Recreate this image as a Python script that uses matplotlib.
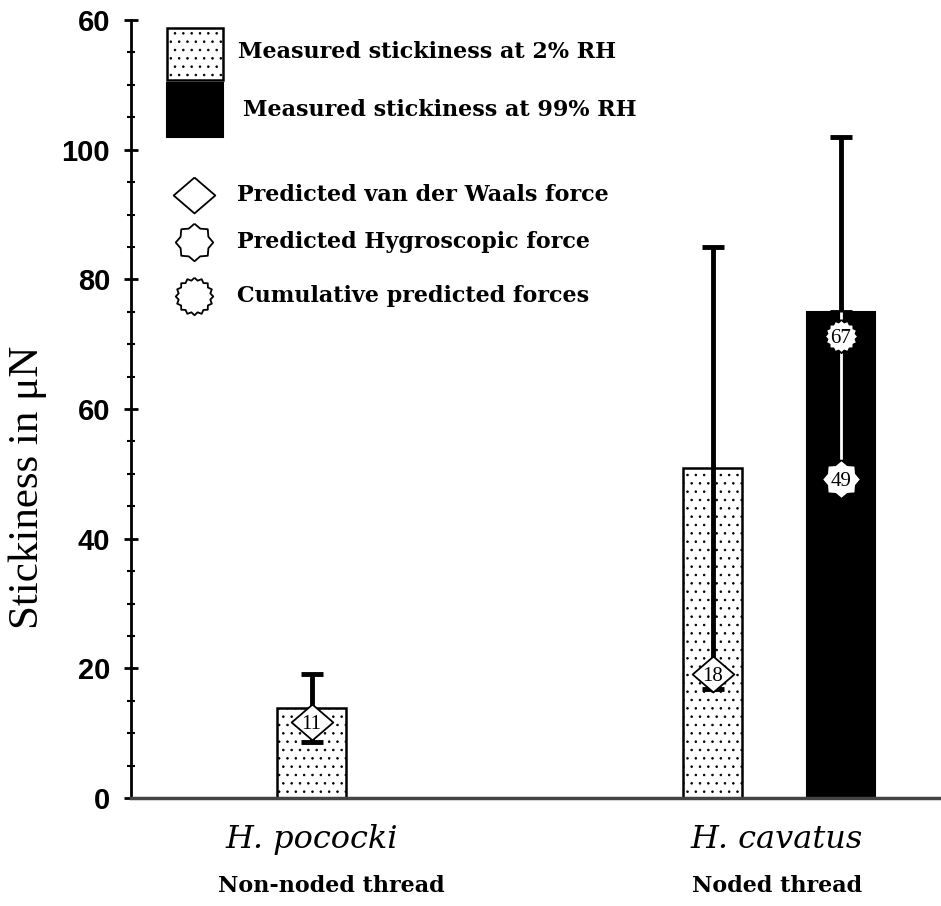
import numpy as np
import matplotlib
matplotlib.use("Agg")
import matplotlib.pyplot as plt
from matplotlib.patches import Rectangle
import matplotlib.transforms as mtransforms

# ---------------- data ----------------
species = ["H. pococki", "H. cavatus"]
thread_types = ["Non-noded thread", "Noded thread"]
rh_conditions = ["Measured stickiness at 2% RH", "Measured stickiness at 99% RH"]

bar_species = [0, 1, 1]          # which species each bar belongs to
bar_condition = [0, 0, 1]        # 0 = 2% RH, 1 = 99% RH
bar_means = [13.9, 50.9, 75.0]
bar_errors = [5.2, 34.1, 27.0]

predicted_labels = ["Predicted van der Waals force",
                    "Predicted Hygroscopic force",
                    "Cumulative predicted forces"]
pred_bar = [0, 1, 2, 2]          # bar index the prediction sits on
pred_kind = [0, 0, 1, 2]         # index into predicted_labels
pred_values = [11, 18, 49, 67]   # printed values
pred_y = [11.7, 19.2, 49.2, 71.3]  # vertical position

yticks = [0, 20, 40, 60, 80, 100, 120]
ytick_labels = ["0", "20", "40", "60", "80", "100", "60"]

# ---------------- style ----------------
W, H = 941, 906
plt.rcParams["hatch.color"] = "#808080"
plt.rcParams["hatch.linewidth"] = 0.6

fig = plt.figure(figsize=(W / 100, H / 100), dpi=100)
L, R, B, T = 131, 941, 798, 20
ax = fig.add_axes([L / W, 1 - B / H, (R - L) / W, (B - T) / H])

serif = ["DejaVu Serif"]
bar_offset = 0.16
bar_widths = [0.172, 0.147, 0.17]
bar_x = [s + (c - 0.5) * 2 * bar_offset for s, c in zip(bar_species, bar_condition)]

def star(n, inner):
    ang = np.linspace(0, 2 * np.pi, 2 * n, endpoint=False) + np.pi / 2
    r = np.where(np.arange(2 * n) % 2 == 0, 1.0, inner)
    v = np.column_stack([r * np.cos(ang), r * np.sin(ang)])
    return np.vstack([v, v[:1]])

diamond = np.array([[0, 0.86], [1, 0], [0, -0.86], [-1, 0], [0, 0.86]])
marker_shapes = [diamond, star(8, 0.8), star(16, 0.86)]
legend_marker_sizes = [30, 27, 27]
chart_marker_sizes = {0: 30, 1: 28, 2: 24}

# bars
for i in range(len(bar_means)):
    if bar_condition[i] == 0:
        ax.bar(bar_x[i], bar_means[i], width=bar_widths[i], facecolor="white",
               edgecolor="black", linewidth=1.8, hatch="..", zorder=2)
        ax.errorbar(bar_x[i], bar_means[i], yerr=bar_errors[i], fmt="none",
                    ecolor="black", elinewidth=3.5, capsize=8, capthick=3.5, zorder=3)
    else:
        ax.bar(bar_x[i], bar_means[i], width=bar_widths[i], facecolor="black",
               edgecolor="black", linewidth=1.5, zorder=2)
        ax.errorbar(bar_x[i], bar_means[i], yerr=[[0], [bar_errors[i]]], fmt="none",
                    ecolor="black", elinewidth=3.5, capsize=8, capthick=3.5, zorder=3)
        ax.vlines(bar_x[i], bar_means[i] - bar_errors[i], bar_means[i],
                  colors="white", linewidth=2, zorder=3)

# predicted markers
for b, k, v, yy in zip(pred_bar, pred_kind, pred_values, pred_y):
    ax.plot(bar_x[b], yy, marker=marker_shapes[k], markersize=chart_marker_sizes[k],
            markerfacecolor="white", markeredgecolor="black", markeredgewidth=1.3,
            linestyle="none", zorder=4)
    ax.text(bar_x[b], yy, str(v), ha="center", va="center_baseline",
            fontsize=15, family=["Liberation Serif"], zorder=5)

# axes
ax.set_ylim(0, 120)
ax.set_xlim(-0.6103, 1.4096)
ax.set_yticks(yticks)
ax.set_yticklabels(ytick_labels, fontsize=21, fontweight="bold",
                   family=["Liberation Sans"])
ax.set_yticks(np.arange(0, 121, 5), minor=True)
ax.tick_params(axis="y", which="major", direction="inout", length=10, width=2, pad=10)
ax.tick_params(axis="y", which="minor", direction="inout", length=6, width=1.5)
ax.set_xticks([])
for s in ["top", "right"]:
    ax.spines[s].set_visible(False)
ax.spines["left"].set_linewidth(2)
ax.spines["bottom"].set_linewidth(2.5)
ax.spines["bottom"].set_color("#444444")

fig.text(28 / W, 1 - 487 / H, "Stickiness in \u03bcN", rotation=90, ha="center",
         va="center", fontsize=31, family=["Liberation Serif"])

# category labels
tr = mtransforms.blended_transform_factory(ax.transData, fig.transFigure)
for s in range(len(species)):
    xs = [bar_x[i] for i in range(len(bar_x)) if bar_species[i] == s]
    xc = np.mean(xs)
    ax.text(xc, 1 - 848 / H, species[s], transform=tr, ha="center", va="baseline",
            fontsize=23, style="italic", family=serif)
    ax.text(xc + (0.05 if s == 0 else 0), 1 - 892 / H, thread_types[s], transform=tr,
            ha="center", va="baseline", fontsize=16, fontweight="bold", family=serif)

# legend (manual)
def fx(px):
    return (px - L) / (R - L)

def fy(py):
    return (B - py) / (B - T)

ax.add_patch(Rectangle((fx(167), fy(80)), fx(223) - fx(167), fy(28) - fy(80),
                       transform=ax.transAxes, facecolor="white", edgecolor="black",
                       linewidth=1.8, hatch="..", clip_on=False))
ax.add_patch(Rectangle((fx(167), fy(137)), fx(223) - fx(167), fy(83) - fy(137),
                       transform=ax.transAxes, facecolor="black", edgecolor="black",
                       linewidth=1.5, clip_on=False))
ax.text(fx(238), fy(52), rh_conditions[0], transform=ax.transAxes, ha="left",
        va="center", fontsize=16, fontweight="bold", family=serif)
ax.text(fx(243), fy(110), rh_conditions[1], transform=ax.transAxes, ha="left",
        va="center", fontsize=16, fontweight="bold", family=serif)
for k, py in zip(range(3), [195, 242, 296]):
    ax.plot([fx(194)], [fy(py)], transform=ax.transAxes, marker=marker_shapes[k],
            markersize=legend_marker_sizes[k], markerfacecolor="white",
            markeredgecolor="black", markeredgewidth=1.3, linestyle="none", clip_on=False)
    ax.text(fx(237), fy(py), predicted_labels[k], transform=ax.transAxes, ha="left",
            va="center", fontsize=16, fontweight="bold", family=serif)

fig.savefig("out.png", dpi=100)
